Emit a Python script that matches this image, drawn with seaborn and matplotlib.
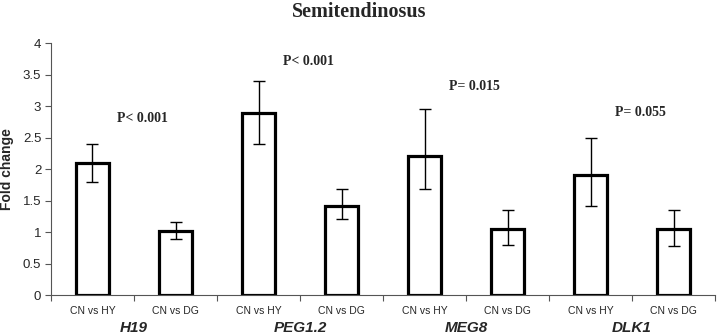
import numpy as np
import pandas as pd
import matplotlib
matplotlib.use("Agg")
import matplotlib.pyplot as plt
import seaborn as sns

# Fold change values
genes = ["H19", "PEG1.2", "MEG8", "DLK1"]
comparisons = ["CN vs HY", "CN vs DG"]
hy_fold = [2.10, 2.89, 2.20, 1.91]
dg_fold = [1.02, 1.42, 1.05, 1.05]
hy_err_low = [0.30, 0.50, 0.51, 0.50]
hy_err_high = [0.30, 0.51, 0.75, 0.59]
dg_err_low = [0.13, 0.22, 0.26, 0.28]
dg_err_high = [0.14, 0.27, 0.30, 0.30]
p_labels = ["P< 0.001", "P< 0.001", "P= 0.015", "P= 0.055"]
p_heights = [2.80, 3.71, 3.31, 2.90]

df = pd.DataFrame({
    "gene": genes * 2,
    "comparison": [comparisons[0]] * 4 + [comparisons[1]] * 4,
    "fold": hy_fold + dg_fold,
})

sns.set_style("white")
plt.rcParams["font.family"] = ["Liberation Sans", "DejaVu Sans"]

fig = plt.figure(figsize=(7.18, 3.36), dpi=100)
ax = fig.add_axes([0.071, 0.122, 0.925, 0.75])

sns.barplot(data=df, x="gene", y="fold", hue="comparison", order=genes,
            hue_order=comparisons, width=1.0, gap=0.6,
            palette=["white", "white"], edgecolor="black", linewidth=2.3,
            errorbar=None, legend=False, ax=ax)

# error bars (asymmetric)
idx = np.arange(len(genes))
ax.errorbar(idx - 0.25, hy_fold, yerr=[hy_err_low, hy_err_high], fmt="none",
            ecolor="black", elinewidth=1.0, capsize=4, capthick=1.0)
ax.errorbar(idx + 0.25, dg_fold, yerr=[dg_err_low, dg_err_high], fmt="none",
            ecolor="black", elinewidth=1.0, capsize=4, capthick=1.0)

# p-value annotations
for i, (lab, h) in enumerate(zip(p_labels, p_heights)):
    ax.text(i + 0.05, h, lab, ha="center", va="center", fontsize=10,
            fontweight="bold", family=["Liberation Serif", "DejaVu Serif"])

ax.set_xlim(-0.5, len(genes) - 0.5)
ax.set_ylim(0, 4)
ax.set_yticks(np.arange(0, 4.01, 0.5))
ax.set_yticklabels([f"{v:g}" for v in np.arange(0, 4.01, 0.5)], fontsize=9.5)

ax.set_xticks(np.concatenate([[i - 0.25, i + 0.25] for i in idx]))
ax.set_xticklabels(comparisons * len(genes), fontsize=7.5)
ax.set_xticks(np.arange(-0.5, len(genes), 0.5), minor=True)
ax.tick_params(axis="x", which="major", length=0, pad=8, bottom=True)
ax.tick_params(axis="x", which="minor", length=4, width=0.8, color="#555555",
               bottom=True)
ax.tick_params(axis="y", length=4, width=0.8, color="#555555", left=True, pad=3)

for i, g in enumerate(genes):
    ax.text(i, -0.52, g, ha="center", va="center", fontsize=11,
            fontweight="bold", fontstyle="italic",
            transform=ax.transData, clip_on=False)

ax.set_xlabel("")
ax.set_ylabel("Fold change", fontsize=10, fontweight="bold", labelpad=6)

for side in ["top", "right"]:
    ax.spines[side].set_visible(False)
for side in ["left", "bottom"]:
    ax.spines[side].set_color("#555555")
    ax.spines[side].set_linewidth(0.8)

fig.text(0.5, 0.965, "Semitendinosus", ha="center", va="center", fontsize=14.5,
         fontweight="bold", family=["Liberation Serif", "DejaVu Serif"])

fig.savefig("out.png", dpi=100)
